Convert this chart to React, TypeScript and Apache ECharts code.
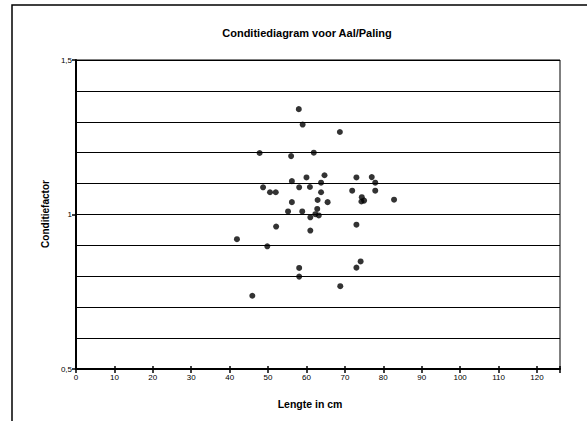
import React, { useEffect, useRef } from "react";
import * as echarts from "echarts";

const chartTitle = "Conditiediagram voor Aal/Paling";
const xAxisTitle = "Lengte in cm";
const yAxisTitle = "Conditiefactor";

const xTickValues = [0, 10, 20, 30, 40, 50, 60, 70, 80, 90, 100, 110, 120];
const yTickLabels = ["0,5", "1", "1,5"];

const lengths = [
  58.0, 59.0, 68.7, 47.8, 56.0, 61.9, 64.7, 60.0, 56.2, 63.8,
  73.0, 77.0, 77.9, 48.7, 58.1, 60.9, 50.5, 52.0, 63.8, 71.9,
  77.9, 74.4, 75.0, 74.3, 82.8, 62.9, 56.2, 65.5, 55.2, 58.9,
  62.8, 62.3, 63.2, 61.0, 52.1, 73.0, 61.0, 41.9, 49.8, 58.1,
  58.1, 74.1, 73.0, 68.8, 45.9,
];
const factors = [
  1.341, 1.291, 1.267, 1.199, 1.189, 1.200, 1.127, 1.120, 1.108, 1.103,
  1.120, 1.121, 1.103, 1.088, 1.088, 1.089, 1.072, 1.072, 1.072, 1.077,
  1.077, 1.056, 1.045, 1.042, 1.048, 1.047, 1.040, 1.040, 1.010, 1.010,
  1.018, 1.001, 0.997, 0.991, 0.961, 0.967, 0.948, 0.920, 0.897, 0.827,
  0.799, 0.848, 0.828, 0.768, 0.737,
];

const FONT = "'Liberation Sans', Arial, sans-serif";

export default function App() {
  const ref = useRef<HTMLDivElement>(null);
  useEffect(() => {
    if (!ref.current) return;
    const chart = echarts.init(ref.current, undefined, { renderer: "svg" });
    const points = lengths.map((x, i) => [x, factors[i]]);
    chart.setOption({
      animation: false,
      backgroundColor: "#fff",
      textStyle: { fontFamily: FONT },
      title: {
        text: chartTitle,
        left: 302,
        top: 22,
        textAlign: "center",
        textStyle: { fontSize: 11, fontWeight: "bold", color: "#000", fontFamily: FONT },
      },
      grid: {
        left: 76,
        right: 27,
        top: 60,
        bottom: 52,
        show: true,
        borderColor: "#000",
        borderWidth: 1,
        backgroundColor: "transparent",
      },
      xAxis: [
        {
          type: "value",
          min: 0,
          max: 126,
          interval: 10,
          axisLine: { show: true, lineStyle: { color: "#000", width: 2 } },
          axisTick: { show: true, length: 4, lineStyle: { color: "#000", width: 1.5 } },
          splitLine: { show: false },
          axisLabel: {
            color: "#000",
            fontSize: 8,
            margin: 4,
            fontFamily: FONT,
            formatter: (v: number) => (xTickValues.indexOf(v) >= 0 ? String(v) : ""),
          },
        },
        {
          type: "value",
          position: "bottom",
          min: 0,
          max: 126,
          interval: 10,
          axisLine: { show: false },
          axisTick: { show: true, inside: true, length: 3, lineStyle: { color: "#000", width: 1.5 } },
          splitLine: { show: false },
          axisLabel: { show: false },
        },
      ],
      yAxis: [
        {
          type: "value",
          min: 0.5,
          max: 1.5,
          interval: 0.1,
          axisLine: { show: true, lineStyle: { color: "#000", width: 2 } },
          axisTick: { show: false },
          axisLabel: { show: false },
          splitLine: { show: true, lineStyle: { color: "#000", width: 1 } },
        },
        {
          type: "value",
          position: "left",
          min: 0.5,
          max: 1.5,
          interval: 0.5,
          axisLine: { show: false },
          axisTick: { show: true, length: 4, lineStyle: { color: "#000", width: 1.5 } },
          splitLine: { show: false },
          axisLabel: {
            color: "#000",
            fontSize: 8,
            margin: 4,
            fontFamily: FONT,
            formatter: (v: number) => yTickLabels[Math.round((v - 0.5) / 0.5)] ?? "",
          },
        },
      ],
      graphic: [
        {
          type: "rect",
          shape: { x: 12, y: 5, width: 620, height: 500 },
          style: { fill: "none", stroke: "#000", lineWidth: 1.5 },
          silent: true,
        },
        {
          type: "text",
          x: 45,
          y: 214,
          rotation: Math.PI / 2,
          style: {
            text: yAxisTitle,
            fill: "#000",
            font: `bold 10px ${FONT}`,
            textAlign: "center",
            textVerticalAlign: "middle",
          },
        },
        {
          type: "text",
          x: 310,
          y: 404,
          style: {
            text: xAxisTitle,
            fill: "#000",
            font: `bold 10.5px ${FONT}`,
            textAlign: "center",
            textVerticalAlign: "middle",
          },
        },
      ],
      series: [
        {
          type: "scatter",
          xAxisIndex: 0,
          yAxisIndex: 0,
          data: points,
          symbol: "circle",
          symbolSize: 6,
          itemStyle: { color: "#000" },
        },
      ],
    });
    return () => chart.dispose();
  }, []);
  return (
    <div
      ref={ref}
      style={{ position: "fixed", left: 0, top: 0, width: 587, height: 421 }}
    />
  );
}
